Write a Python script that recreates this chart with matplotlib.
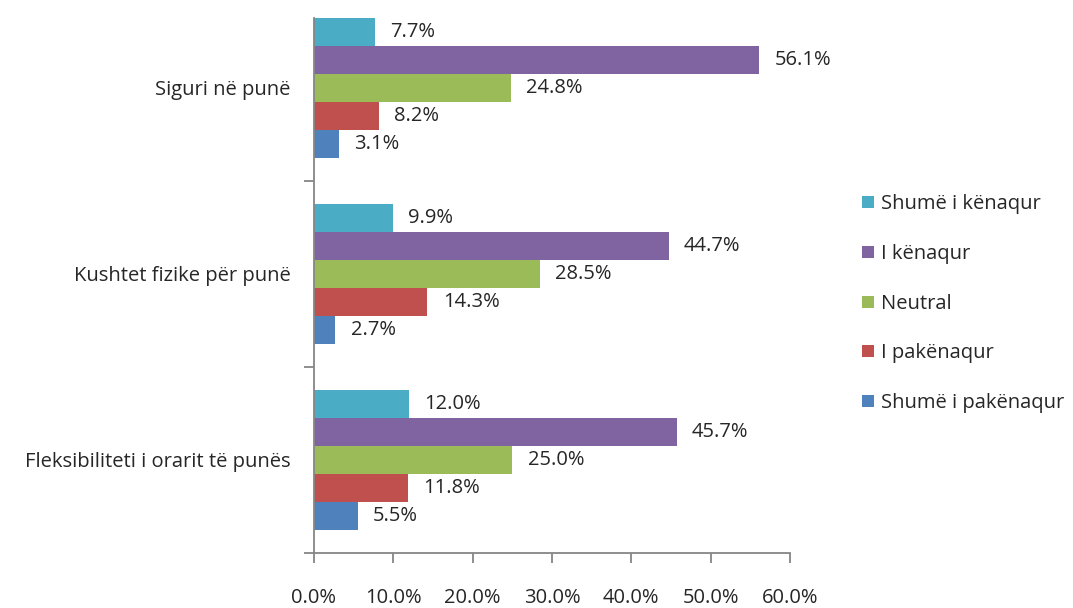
import matplotlib
matplotlib.use("Agg")
import matplotlib.pyplot as plt
from matplotlib.ticker import FuncFormatter, FixedLocator
from matplotlib.lines import Line2D
import numpy as np

plt.rcParams['font.family'] = ['Open Sans', 'DejaVu Sans']

# categories, bottom to top
categories = ["Fleksibiliteti i orarit të punës", "Kushtet fizike për punë", "Siguri në punë"]

# series in stacking order (first one drawn at the bottom of each group)
series_names = ["Shumë i pakënaqur", "I pakënaqur", "Neutral", "I kënaqur", "Shumë i kënaqur"]
shume_i_pakenaqur = [5.5, 2.7, 3.1]
i_pakenaqur = [11.8, 14.3, 8.2]
neutral = [25.0, 28.5, 24.8]
i_kenaqur = [45.7, 44.7, 56.1]
shume_i_kenaqur = [12.0, 9.9, 7.7]
series_values = [shume_i_pakenaqur, i_pakenaqur, neutral, i_kenaqur, shume_i_kenaqur]
colors = ["#4F81BD", "#C0504D", "#9BBB59", "#8064A2", "#4BACC6"]

x_ticks = [0, 10, 20, 30, 40, 50, 60]

text_color = "#262626"
axis_color = "#868686"
fs = 14.5

fig = plt.figure(figsize=(10.73, 6.08), dpi=100)
ax = fig.add_axes([314 / 1073, 1 - 553 / 608, 476 / 1073, 535 / 608])

bar_h = 0.15
y = np.arange(len(categories))
n = len(series_names)
for i, (name, vals, c) in enumerate(zip(series_names, series_values, colors)):
    pos = y + (i - (n - 1) / 2) * bar_h
    ax.barh(pos, vals, height=bar_h, color=c, label=name, linewidth=0)
    for p, v in zip(pos, vals):
        ax.annotate(f"{v:.1f}%", xy=(v, p), xytext=(11, 0), textcoords="offset points",
                    ha="left", va="center", fontsize=fs, color=text_color)

ax.set_xlim(0, 60)
ax.set_ylim(-0.5, y[-1] + n * bar_h / 2)

for s in ("top", "right"):
    ax.spines[s].set_visible(False)
for s in ("left", "bottom"):
    ax.spines[s].set_color(axis_color)
    ax.spines[s].set_linewidth(1.3)

ax.set_xticks(x_ticks)
ax.xaxis.set_major_formatter(FuncFormatter(lambda v, _: f"{v:.1f}%"))
ax.tick_params(axis="x", length=7, width=1.3, color=axis_color, pad=18,
               labelsize=fs, labelcolor=text_color)

ax.set_yticks(y)
ax.set_yticklabels(categories)
ax.yaxis.set_minor_locator(FixedLocator([-0.5, 0.5, 1.5]))
ax.tick_params(axis="y", which="major", length=0, pad=17, labelsize=fs, labelcolor=text_color)
ax.tick_params(axis="y", which="minor", length=7, width=1.3, color=axis_color)

handles = [Line2D([], [], marker="s", linestyle="none", markersize=9,
                  markerfacecolor=c, markeredgewidth=0) for c in colors[::-1]]
fig.legend(handles, series_names[::-1], loc="upper left", bbox_to_anchor=(850 / 1073, 1 - 184 / 608),
           frameon=False, fontsize=fs, labelcolor=text_color, labelspacing=1.48,
           handlelength=0.8, handletextpad=0.25, borderpad=0)

fig.savefig("out.png", dpi=100)
